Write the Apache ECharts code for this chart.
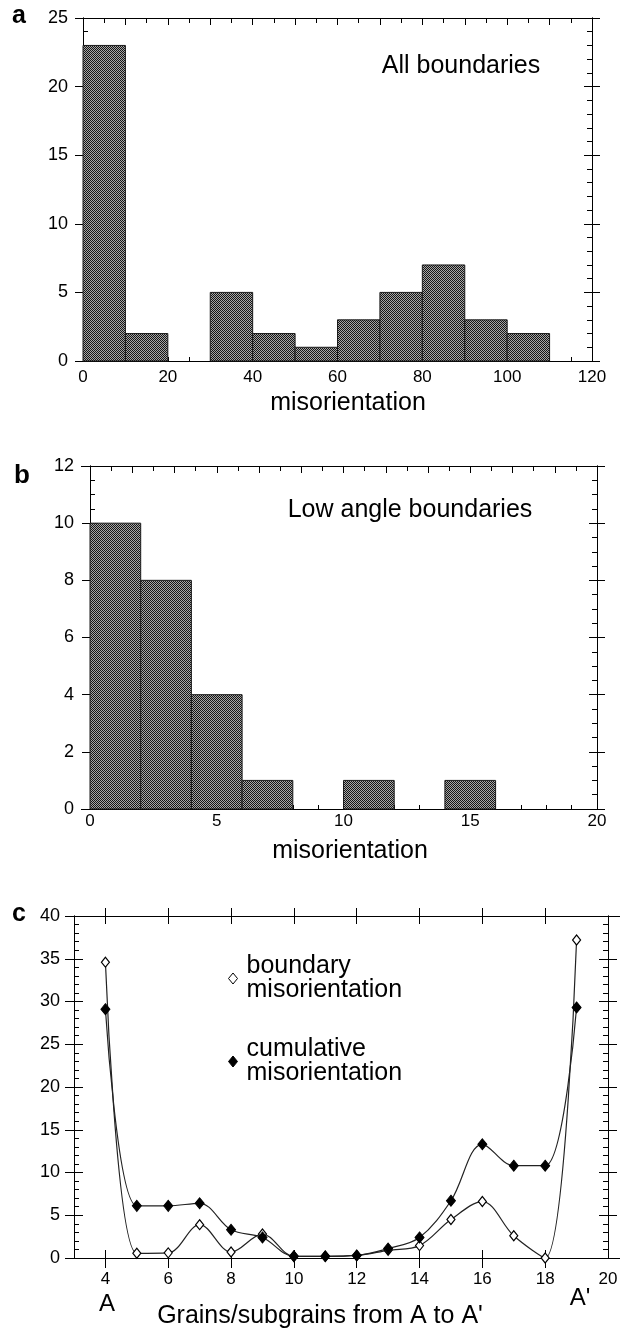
<!DOCTYPE html>
<html><head><meta charset="utf-8">
<script src="https://cdn.jsdelivr.net/npm/echarts@6/dist/echarts.min.js"></script>
<style>html,body{margin:0;padding:0;background:#fff}#c{width:620px;height:1328px}</style>
</head><body><div id="c"></div>
<script>
// ---------- DATA ----------
// Panel a: all boundaries (bin start, bin width, counts)
const aBinStart = [0, 10, 20, 30, 40, 50, 60, 70, 80, 90, 100];
const aBinWidth = 10;
const aCounts = [23, 2, 0, 5, 2, 1, 3, 5, 7, 3, 2];
const aXLabels = [0, 20, 40, 60, 80, 100, 120];
// Panel b: low angle boundaries
const bBinStart = [0, 2, 4, 6, 8, 10, 12, 14];
const bBinWidth = 2;
const bCounts = [10, 8, 4, 1, 0, 1, 0, 1];
const bXLabels = [0, 5, 10, 15, 20];
// Panel c: misorientation profile from A to A'
const cGrains = [4, 5, 6, 7, 8, 9, 10, 11, 12, 13, 14, 15, 16, 17, 18, 19];
const cBoundary = [34.6, 0.55, 0.6, 3.9, 0.7, 2.8, 0.2, 0.2, 0.3, 0.9, 1.45, 4.5, 6.6, 2.6, 0.0, 37.2];
const cCumulative = [29.1, 6.1, 6.1, 6.4, 3.3, 2.4, 0.2, 0.2, 0.3, 1.1, 2.4, 6.7, 13.3, 10.8, 10.8, 29.3];
const cXTicks = [4, 6, 8, 10, 12, 14, 16, 18];
const cXLabels = [4, 6, 8, 10, 12, 14, 16, 18, 20];

// ---------- STYLE ----------
const FONT = '"Liberation Sans", Arial, Helvetica, sans-serif';
const chart = echarts.init(document.getElementById('c'), null, {renderer: 'canvas'});

const pc = document.createElement('canvas');
pc.width = 2; pc.height = 2;
const pctx = pc.getContext('2d');
pctx.fillStyle = '#a6a6a6'; pctx.fillRect(0, 0, 2, 2);
pctx.fillStyle = '#151515'; pctx.fillRect(0, 0, 1, 1); pctx.fillRect(1, 1, 1, 1);
const hatch = {image: pc, repeat: 'repeat'};

function mkAxis(gridIndex, position, min, max, o) {
  const ax = {
    type: 'value', gridIndex, position, min, max,
    splitLine: {show: false},
    axisLine: {show: true, onZero: false, lineStyle: {color: '#000', width: 1}},
    axisTick: {show: o.len > 0, inside: !!o.inside, length: o.len || 0, lineStyle: {color: '#000', width: 1}},
    minorTick: {show: !!o.minor, splitNumber: o.minor || 5, length: 5, lineStyle: {color: '#000', width: 1}},
    axisLabel: {show: false},
    axisPointer: {show: false}
  };
  if (o.interval != null) ax.interval = o.interval;
  if (o.splitNumber != null) ax.splitNumber = o.splitNumber;
  if (o.tickValues) ax.axisTick.customValues = o.tickValues;
  if (o.label) {
    ax.axisLabel = Object.assign({show: true, color: '#000', fontFamily: FONT}, o.label);
  }
  return ax;
}

const xAxes = [
  // grid 0 (a)
  mkAxis(0, 'bottom', 0, 120, {interval: 5, inside: true, len: 4,
    label: {fontSize: 17, margin: 8, formatter: v => aXLabels.includes(v) ? String(v) : ''}}),
  mkAxis(0, 'top', 0, 120, {interval: 10, inside: true, len: 7, minor: 2}),
  // grid 1 (b)
  mkAxis(1, 'bottom', 0, 20, {interval: 1, inside: true, len: 4,
    label: {fontSize: 17, margin: 4, formatter: v => bXLabels.includes(v) ? String(v) : ''}}),
  mkAxis(1, 'top', 0, 24, {interval: 2, inside: true, len: 7, minor: 2}),
  // grid 2 (c)
  mkAxis(2, 'bottom', 3, 20, {splitNumber: 8, inside: false, len: 10, tickValues: cXTicks,
    label: {fontSize: 17, margin: 13, customValues: cXLabels}}),
  mkAxis(2, 'bottom', 3, 20, {splitNumber: 8, inside: true, len: 8, tickValues: cXTicks}),
  mkAxis(2, 'top', 3, 20, {splitNumber: 8, inside: false, len: 8, tickValues: cXTicks}),
  mkAxis(2, 'top', 3, 20, {splitNumber: 8, inside: true, len: 8, tickValues: cXTicks})
];

const yLab = {fontSize: 18, margin: 15};
const yAxes = [
  // a
  mkAxis(0, 'left', 0, 25, {interval: 5, len: 8, label: yLab}),
  mkAxis(0, 'left', 0, 25, {interval: 5, len: 8, inside: true, minor: 5}),
  mkAxis(0, 'right', 0, 25, {interval: 5, len: 8}),
  mkAxis(0, 'right', 0, 25, {interval: 5, len: 8, inside: true, minor: 5}),
  // b
  mkAxis(1, 'left', 0, 12, {interval: 2, len: 8, label: {fontSize: 18, margin: 16}}),
  mkAxis(1, 'left', 0, 12, {interval: 2, len: 8, inside: true, minor: 4}),
  mkAxis(1, 'right', 0, 12, {interval: 2, len: 8}),
  mkAxis(1, 'right', 0, 12, {interval: 2, len: 8, inside: true, minor: 4}),
  // c
  mkAxis(2, 'left', 0, 40, {interval: 5, len: 9, label: {fontSize: 18, margin: 14}}),
  mkAxis(2, 'left', 0, 40, {interval: 5, len: 9, inside: true, minor: 5}),
  mkAxis(2, 'right', 0, 40, {interval: 5, len: 9}),
  mkAxis(2, 'right', 0, 40, {interval: 5, len: 9, inside: true, minor: 5})
];

function histItem(params, api) {
  const v = api.value(2);
  if (!v) return null;
  const p0 = api.coord([api.value(0), v]);
  const p1 = api.coord([api.value(1), 0]);
  return {
    type: 'rect',
    shape: {x: p0[0], y: p0[1], width: p1[0] - p0[0], height: p1[1] - p0[1]},
    style: {fill: hatch, stroke: '#1a1a1a', lineWidth: 1}
  };
}

const aData = aBinStart.map((s, i) => [s, s + aBinWidth, aCounts[i]]);
const bData = bBinStart.map((s, i) => [s, s + bBinWidth, bCounts[i]]);

function txt(id, text, x, y, size, opts) {
  return Object.assign({
    type: 'text', id, x, y, z: 100,
    style: Object.assign({text, fontSize: size, fontFamily: FONT, fill: '#000',
      align: 'center', verticalAlign: 'middle'}, opts || {})
  });
}

const option = {
  animation: false,
  backgroundColor: '#fff',
  textStyle: {fontFamily: FONT},
  grid: [
    {left: 83, right: 28, top: 18, bottom: 967, containLabel: false, outerBoundsMode: 'none'},
    {left: 90, right: 23, top: 466, bottom: 519, containLabel: false, outerBoundsMode: 'none'},
    {left: 74, right: 12, top: 916, bottom: 70, containLabel: false, outerBoundsMode: 'none'}
  ],
  xAxis: xAxes,
  yAxis: yAxes,
  legend: {
    orient: 'vertical', left: 228, top: 954, padding: 0,
    itemWidth: 9, itemHeight: 11, itemGap: 34, icon: 'diamond',
    selectedMode: false,
    formatter: n => n.replace(' ', '\n'),
    textStyle: {fontSize: 25, lineHeight: 24, fontFamily: FONT, color: '#000', padding: [0, 0, 0, 4]},
    data: [
      {name: 'boundary misorientation', itemStyle: {color: '#fff', borderColor: '#000', borderWidth: 1}},
      {name: 'cumulative misorientation', itemStyle: {color: '#000', borderColor: '#000', borderWidth: 1}}
    ]
  },
  series: [
    {type: 'custom', name: 'all', xAxisIndex: 0, yAxisIndex: 0, renderItem: histItem,
     encode: {x: [0, 1], y: 2}, data: aData, silent: true},
    {type: 'custom', name: 'low', xAxisIndex: 2, yAxisIndex: 4, renderItem: histItem,
     encode: {x: [0, 1], y: 2}, data: bData, silent: true},
    {type: 'line', name: 'boundary misorientation', xAxisIndex: 4, yAxisIndex: 8,
     data: cGrains.map((x, i) => [x, cBoundary[i]]), smooth: 0.35,
     symbol: 'diamond', symbolSize: [8, 10], showAllSymbol: true,
     lineStyle: {color: '#222', width: 1.2},
     itemStyle: {color: '#fff', borderColor: '#000', borderWidth: 1.2}, silent: true, z: 3},
    {type: 'line', name: 'cumulative misorientation', xAxisIndex: 4, yAxisIndex: 8,
     data: cGrains.map((x, i) => [x, cCumulative[i]]), smooth: 0.35,
     symbol: 'diamond', symbolSize: [9, 11], showAllSymbol: true,
     lineStyle: {color: '#222', width: 1.2},
     itemStyle: {color: '#000', borderColor: '#000', borderWidth: 1}, silent: true, z: 4}
  ],
  graphic: [
    txt('la', 'a', 19, 16.5, 25, {fontWeight: 'bold'}),
    txt('lb', 'b', 22, 476, 26, {fontWeight: 'bold'}),
    txt('lc', 'c', 19, 914, 25, {fontWeight: 'bold'}),
    txt('ta', 'All boundaries', 461, 66.5, 25),
    txt('tb', 'Low angle boundaries', 410, 510.5, 25),
    txt('xa', 'misorientation', 348, 403, 25),
    txt('xb', 'misorientation', 350, 851.5, 25),
    txt('xc', "Grains/subgrains from A to A'", 320, 1316, 25),
    txt('pA', 'A', 107, 1304, 24),
    txt('pA2', "A'", 580, 1298, 24)
  ]
};
chart.setOption(option);

// extend the horizontal frame lines slightly beyond the plot corners, like the original
function extLines(seriesIndex, xmin, xmax, ymin, ymax, l, r, id) {
  const p0 = chart.convertToPixel({seriesIndex}, [xmin, ymin]);
  const p1 = chart.convertToPixel({seriesIndex}, [xmax, ymax]);
  const ys = [Math.round(p0[1] - 0.5) + 0.5, Math.round(p1[1] - 0.5) + 0.5];
  const out = [];
  ys.forEach((y, k) => {
    out.push({type: 'line', id: id + 'L' + k, shape: {x1: p0[0] - l, y1: y, x2: p0[0], y2: y},
      style: {stroke: '#000', lineWidth: 1}, z: 50});
    out.push({type: 'line', id: id + 'R' + k, shape: {x1: p1[0], y1: y, x2: p1[0] + r, y2: y},
      style: {stroke: '#000', lineWidth: 1}, z: 50});
  });
  return out;
}
chart.setOption({graphic: [].concat(
  extLines(0, 0, 120, 0, 25, 8, 8, 'ea'),
  extLines(1, 0, 20, 0, 12, 9, 8, 'eb'),
  extLines(2, 3, 20, 0, 40, 9, 12, 'ec')
)});
</script>
</body></html>
